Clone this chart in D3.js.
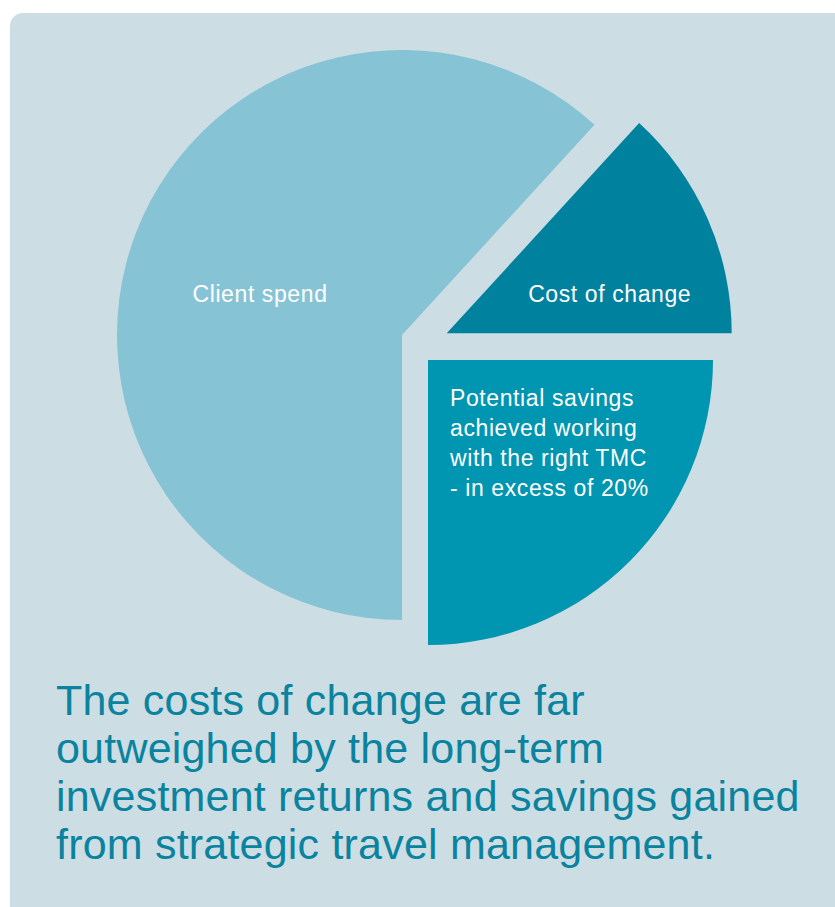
<!DOCTYPE html>
<html>
<head>
<meta charset="utf-8">
<script src="https://cdn.jsdelivr.net/npm/d3@7"></script>
<style>
  body { margin: 0; background: #ffffff; }
  svg { display: block; }
  text { font-family: "Liberation Sans", Arial, Helvetica, sans-serif; }
</style>
</head>
<body>
<div class="chart"></div>
<script>
// slices, in drawing order (clockwise from 3 o'clock)
const categories = ["Potential savings", "Client spend", "Cost of change"]
const values = [25, 61.8, 13.2]
const labels = [
    ["Potential savings", "achieved working", "with the right TMC", "- in excess of 20%"],
    ["Client spend"],
    ["Cost of change"]
]
const headline = [
    "The costs of change are far",
    "outweighed by the long-term",
    "investment returns and savings gained",
    "from strategic travel management."
]

const width = 835
const height = 907
const radius = 285
const center = { x: 402, y: 335 }

// how far each slice is pulled out, and where its label sits
const explode = {
    "Potential savings": [26, 25],
    "Client spend": [0, 0],
    "Cost of change": [44.7, -1.7]
}
const labelPos = {
    "Potential savings": { x: 22, y: 46, anchor: "start" },
    "Client spend": { x: -142, y: -33, anchor: "middle" },
    "Cost of change": { x: 163, y: -31, anchor: "middle" }
}
const colour = d3.scaleOrdinal()
    .domain(categories)
    .range(["#0095b0", "#86c4d5", "#00829f"])

let svg = d3.select(".chart")
    .append("svg")
    .attr("width", width)
    .attr("height", height)

// panel
svg.append("rect")
    .attr("x", 10)
    .attr("y", 13)
    .attr("width", width + 20)
    .attr("height", height + 20)
    .attr("rx", 13)
    .attr("fill", "#cddde4")

const pie = d3.pie()
    .sort(null)
    .startAngle(Math.PI / 2)
    .endAngle(Math.PI / 2 + 2 * Math.PI)

const arc = d3.arc()
    .innerRadius(0)
    .outerRadius(radius)

const data = categories.map((c, i) => ({ name: c, value: values[i], lines: labels[i] }))
const arcs = pie.value(d => d.value)(data)

let slices = svg.selectAll("g.slice")
    .data(arcs)
    .enter()
    .append("g")
    .attr("class", "slice")
    .attr("transform", d => {
        const o = explode[d.data.name]
        return `translate(${center.x + o[0]},${center.y + o[1]})`
    })

slices.append("path")
    .attr("d", arc)
    .attr("fill", d => colour(d.data.name))

slices.append("text")
    .attr("fill", "#ffffff")
    .attr("font-size", 23)
    .attr("letter-spacing", 0.6)
    .attr("text-anchor", d => labelPos[d.data.name].anchor)
    .attr("transform", d => `translate(${labelPos[d.data.name].x},${labelPos[d.data.name].y})`)
    .selectAll("tspan")
    .data(d => d.data.lines)
    .enter()
    .append("tspan")
    .attr("x", 0)
    .attr("y", (d, i) => i * 30)
    .text(d => d)

// headline under the pie
svg.append("text")
    .attr("fill", "#0a839f")
    .attr("font-size", 43)
    .attr("letter-spacing", 0.2)
    .selectAll("tspan")
    .data(headline)
    .enter()
    .append("tspan")
    .attr("x", 56)
    .attr("y", (d, i) => 715 + i * 48)
    .text(d => d)
</script>
</body>
</html>
